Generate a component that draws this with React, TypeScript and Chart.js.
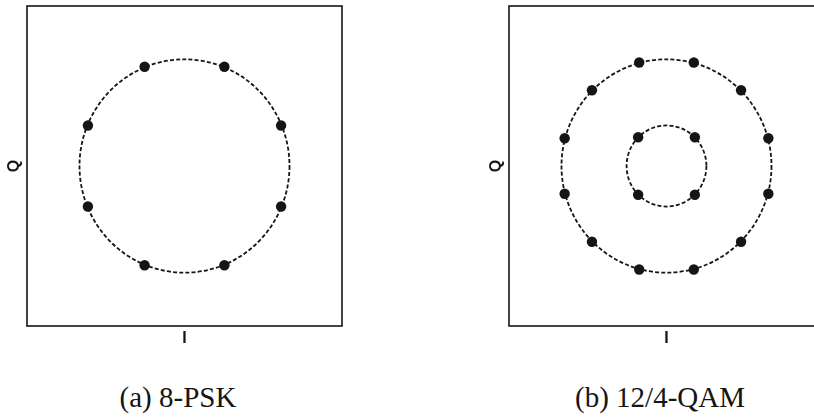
import React, { useEffect, useRef } from "react";
import { Chart, registerables } from "chart.js";

Chart.register(...registerables);

// 8-PSK constellation (in-phase / quadrature, unit ring)
const psk8I = [0.38, 0.92, 0.92, 0.38, -0.38, -0.92, -0.92, -0.38];
const psk8Q = [0.93, 0.38, -0.38, -0.93, -0.93, -0.38, 0.38, 0.93];
const psk8Rings = [1];

// 12/4-QAM constellation: outer ring of 12, inner ring of 4
const qamOuterI = [0.26, 0.71, 0.97, 0.97, 0.71, 0.26, -0.26, -0.71, -0.97, -0.97, -0.71, -0.26];
const qamOuterQ = [0.97, 0.71, 0.26, -0.26, -0.71, -0.97, -0.97, -0.71, -0.26, 0.26, 0.71, 0.97];
const qamInnerI = [0.27, 0.27, -0.27, -0.27];
const qamInnerQ = [0.27, -0.27, -0.27, 0.27];
const qamRings = [1, 0.38];

const axisRange = [-1.5, 1.5];
const xTitle = "I";
const yTitle = "Q";
const captions = ["(a) 8-PSK", "(b) 12/4-QAM"];

const INK = "#151515";

type Pt = { x: number; y: number };
const toPoints = (xs: number[], ys: number[]): Pt[] => xs.map((x, i) => ({ x, y: ys[i] }));

function makeRingPlugin(radii: number[]) {
  return {
    id: "rings",
    beforeDatasetsDraw(chart: any) {
      const { ctx, scales } = chart;
      const sx = scales.x;
      const sy = scales.y;
      const cx = sx.getPixelForValue(0);
      const cy = sy.getPixelForValue(0);
      ctx.save();
      ctx.strokeStyle = INK;
      ctx.lineWidth = 1.8;
      ctx.setLineDash([4, 2.2]);
      for (const r of radii) {
        const rx = sx.getPixelForValue(r) - cx;
        const ry = cy - sy.getPixelForValue(r);
        ctx.beginPath();
        ctx.ellipse(cx, cy, rx, ry, 0, 0, Math.PI * 2);
        ctx.stroke();
      }
      ctx.restore();
    },
  };
}

const framePlugin = {
  id: "frame",
  afterDraw(chart: any) {
    const { ctx, chartArea: a } = chart;
    ctx.save();
    ctx.strokeStyle = INK;
    ctx.lineWidth = 1.6;
    ctx.strokeRect(a.left, a.top, a.right - a.left, a.bottom - a.top);
    ctx.restore();
  },
};

function Panel({ left, sets, rings }: { left: number; sets: Pt[][]; rings: number[] }) {
  const ref = useRef<HTMLCanvasElement | null>(null);
  useEffect(() => {
    if (!ref.current) return;
    const titleFont = { family: "'Liberation Sans', Arial, sans-serif", size: 16, weight: "bold" };
    const chart = new Chart(ref.current, {
      type: "scatter",
      data: {
        datasets: sets.map((pts) => ({
          data: pts,
          showLine: false,
          pointRadius: 5.2,
          pointBorderWidth: 0,
          pointBackgroundColor: INK,
          pointBorderColor: INK,
        })),
      },
      options: {
        animation: false,
        responsive: false,
        devicePixelRatio: 1,
        events: [],
        layout: { padding: { left: 0, top: 6, right: 18, bottom: 0 } },
        plugins: { legend: { display: false }, tooltip: { enabled: false } },
        scales: {
          x: {
            type: "linear",
            position: "bottom",
            min: axisRange[0],
            max: axisRange[1],
            grid: { display: false },
            border: { display: false },
            ticks: { display: false },
            title: { display: true, text: xTitle, color: INK, font: titleFont, padding: { top: 0, bottom: 12 } },
            afterFit: (s: any) => {
              s.height = 34;
            },
          },
          y: {
            type: "linear",
            position: "left",
            min: axisRange[0],
            max: axisRange[1],
            grid: { display: false },
            border: { display: false },
            ticks: { display: false },
            title: { display: true, text: yTitle, color: INK, font: titleFont, padding: { top: 5, bottom: 0 } },
            afterFit: (s: any) => {
              s.width = 27;
            },
          },
        },
      },
      plugins: [makeRingPlugin(rings), framePlugin],
    } as any);
    return () => chart.destroy();
  }, []);
  return (
    <canvas
      ref={ref}
      width={360}
      height={360}
      style={{ position: "absolute", left, top: 0, width: 360, height: 360 }}
    />
  );
}

const captionStyle: React.CSSProperties = {
  position: "absolute",
  top: 378,
  height: 38,
  lineHeight: "38px",
  width: 360,
  textAlign: "center",
  fontFamily: "'Liberation Serif', 'Times New Roman', serif",
  fontSize: 29,
  color: INK,
  whiteSpace: "nowrap",
};

export default function App() {
  return (
    <div
      style={{
        position: "fixed",
        left: 0,
        top: 0,
        width: 814,
        height: 417,
        overflow: "hidden",
        background: "#fff",
      }}
    >
      <Panel left={0} sets={[toPoints(psk8I, psk8Q)]} rings={psk8Rings} />
      <Panel
        left={482}
        sets={[toPoints(qamOuterI, qamOuterQ), toPoints(qamInnerI, qamInnerQ)]}
        rings={qamRings}
      />
      <div style={{ ...captionStyle, left: -2 }}>{captions[0]}</div>
      <div style={{ ...captionStyle, left: 480 }}>{captions[1]}</div>
    </div>
  );
}
